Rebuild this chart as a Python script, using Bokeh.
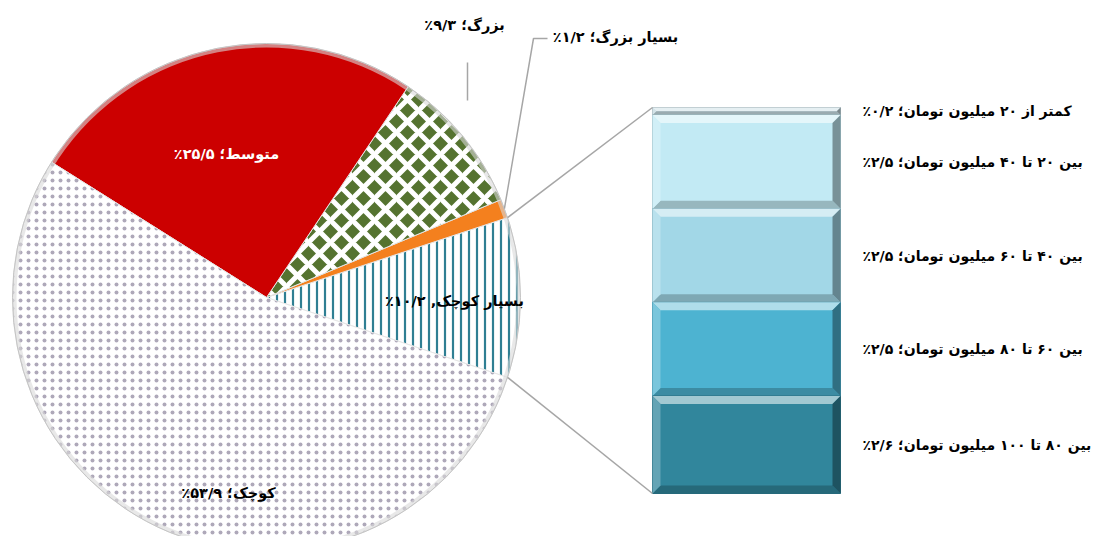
import math
from bokeh.plotting import figure
from bokeh.models import Range1d
from bokeh.core.properties import value
from bokeh.embed import file_html
from bokeh.resources import INLINE

# ---------------- data ----------------
pie_labels = ["بسیار کوچک", "بسیار بزرگ", "بزرگ", "متوسط", "کوچک"]
pie_values = [10.2, 1.2, 9.3, 25.5, 53.9]
pie_seps = [", ", "؛ ", "؛ ", "؛ ", "؛ "]

bar_labels = ["کمتر از ۲۰ میلیون تومان", "بین ۲۰ تا ۴۰ میلیون تومان",
              "بین ۴۰ تا ۶۰ میلیون تومان", "بین ۶۰ تا ۸۰ میلیون تومان",
              "بین ۸۰ تا ۱۰۰ میلیون تومان"]
bar_values = [0.2, 2.5, 2.5, 2.5, 2.6]

# ---------------- helpers ----------------
FA = str.maketrans("0123456789", "۰۱۲۳۴۵۶۷۸۹")
RLM = "\u200f"


def fa_num(v):
    return f"{v:.1f}".replace(".", "/").translate(FA)


def label_text(name, sep, v):
    return name + sep + fa_num(v) + "٪" + RLM


def mix(c, t, k):
    c = c.lstrip("#")
    t = t.lstrip("#")
    a = [int(c[i:i + 2], 16) for i in (0, 2, 4)]
    b = [int(t[i:i + 2], 16) for i in (0, 2, 4)]
    return "#" + "".join(f"{int(round(x + (y - x) * k)):02x}" for x, y in zip(a, b))


W, H = 1094, 536


def Y(py):  # picture y (down) -> data y (up)
    return H - py


# ---------------- figure ----------------
p = figure(width=W, height=H, x_range=Range1d(0, W), y_range=Range1d(0, H),
           output_backend="svg", toolbar_location=None, min_border=0,
           x_axis_type=None, y_axis_type=None)
p.grid.visible = False
p.outline_line_color = None
p.background_fill_color = "white"
p.border_fill_color = "white"

FONT = value("DejaVu Sans")
FS = "14.5px"
FS_BAR = "14px"

# ---------------- pie ----------------
cx, cy, r = 266, Y(297), 254
total = sum(pie_values)
styles = {
    "بسیار کوچک": dict(fill_color="white", hatch_pattern="|", hatch_color="#2f7f93",
                      hatch_weight=2.2, hatch_scale=8),
    "بسیار بزرگ": dict(fill_color="#f4801e"),
    "بزرگ": dict(fill_color="#557330", hatch_pattern="x", hatch_color="white",
                 hatch_weight=5, hatch_scale=22),
    "متوسط": dict(fill_color="#cc0000"),
    "کوچک": dict(fill_color="white", hatch_pattern=".", hatch_color="#5d5274",
                 hatch_alpha=0.5, hatch_weight=1, hatch_scale=8),
}
angles = []
a = -math.pi * pie_values[0] / total
for name, v in zip(pie_labels, pie_values):
    a2 = a + 2 * math.pi * v / total
    angles.append((a, a2))
    p.wedge(x=cx, y=cy, radius=r, start_angle=a, end_angle=a2,
            line_color="#e6e6e6", line_width=1, **styles[name])
    a = a2
# rim shading
p.annular_wedge(x=cx, y=cy, inner_radius=r - 4, outer_radius=r, start_angle=0,
                end_angle=2 * math.pi, fill_color="#d9d9d9", fill_alpha=0.6, line_color=None)
p.circle(x=cx, y=cy, radius=r, fill_color=None, line_color="#c4c4c4", line_width=1)

# ---------------- bar (stack) ----------------
bx0, bx1 = 652, 840
btop, bbot = Y(107), Y(493)
scale = (btop - bbot) / sum(bar_values)
bar_colors = ["#c6dbe2", "#c2eaf4", "#a2d7e7", "#4db3d1", "#31869c"]
segs = []
y = btop
for v in bar_values:
    y0 = y - v * scale
    segs.append((y0, y))
    y = y0

for (y0, y1), col in zip(segs, bar_colors):
    p.quad(left=bx0, right=bx1, bottom=y0, top=y1, fill_color=col,
           line_color=mix(col, "#000000", 0.2), line_width=1)
    b = min(8, (y1 - y0) / 2)
    xs = [[bx0, bx1, bx1 - b, bx0 + b], [bx0, bx1, bx1 - b, bx0 + b],
          [bx0, bx0, bx0 + b, bx0 + b], [bx1, bx1, bx1 - b, bx1 - b]]
    ys = [[y1, y1, y1 - b, y1 - b], [y0, y0, y0 + b, y0 + b],
          [y0, y1, y1 - b, y0 + b], [y0, y1, y1 - b, y0 + b]]
    cols = [mix(col, "#ffffff", 0.55), mix(col, "#000000", 0.22),
            mix(col, "#ffffff", 0.25), mix(col, "#000000", 0.38)]
    p.patches(xs=xs, ys=ys, fill_color=cols, line_color=None)

# connector lines from "very small" slice to bar
a0, a1 = angles[0]
p.line(x=[cx + r * math.cos(a1), bx0], y=[cy + r * math.sin(a1), btop],
       line_color="#a6a6a6", line_width=1.5)
p.line(x=[cx + r * math.cos(a0), bx0], y=[cy + r * math.sin(a0), bbot],
       line_color="#a6a6a6", line_width=1.5)

# ---------------- labels ----------------
pie_label_pos = {
    "بسیار کوچک": (454, 300),
    "بسیار بزرگ": (615, 36),
    "بزرگ": (464, 24),
    "متوسط": (226, 153),
    "کوچک": (228, 492),
}
for name, sep, v in zip(pie_labels, pie_seps, pie_values):
    px, py = pie_label_pos[name]
    p.text(x=[px], y=[Y(py)], text=[label_text(name, sep, v)],
           text_font=FONT, text_font_size=FS, text_font_style="bold",
           text_color="white" if name == "متوسط" else "black",
           text_align="center", text_baseline="middle")

# leader lines
p.line(x=[467, 467], y=[Y(62), Y(100)], line_color="#a6a6a6", line_width=1.5)
am = sum(angles[1]) / 2
p.line(x=[547, 533, cx + r * math.cos(am)], y=[Y(38), Y(38), cy + r * math.sin(am)],
       line_color="#a6a6a6", line_width=1.5)

for (y0, y1), name, v in zip(segs, bar_labels, bar_values):
    p.text(x=[862], y=[(y0 + y1) / 2], text=[label_text(name, "؛ ", v)],
           text_font=FONT, text_font_size=FS_BAR, text_font_style="bold",
           text_color="black", text_align="left", text_baseline="middle")

open("out.html", "w").write(file_html(p, INLINE))
